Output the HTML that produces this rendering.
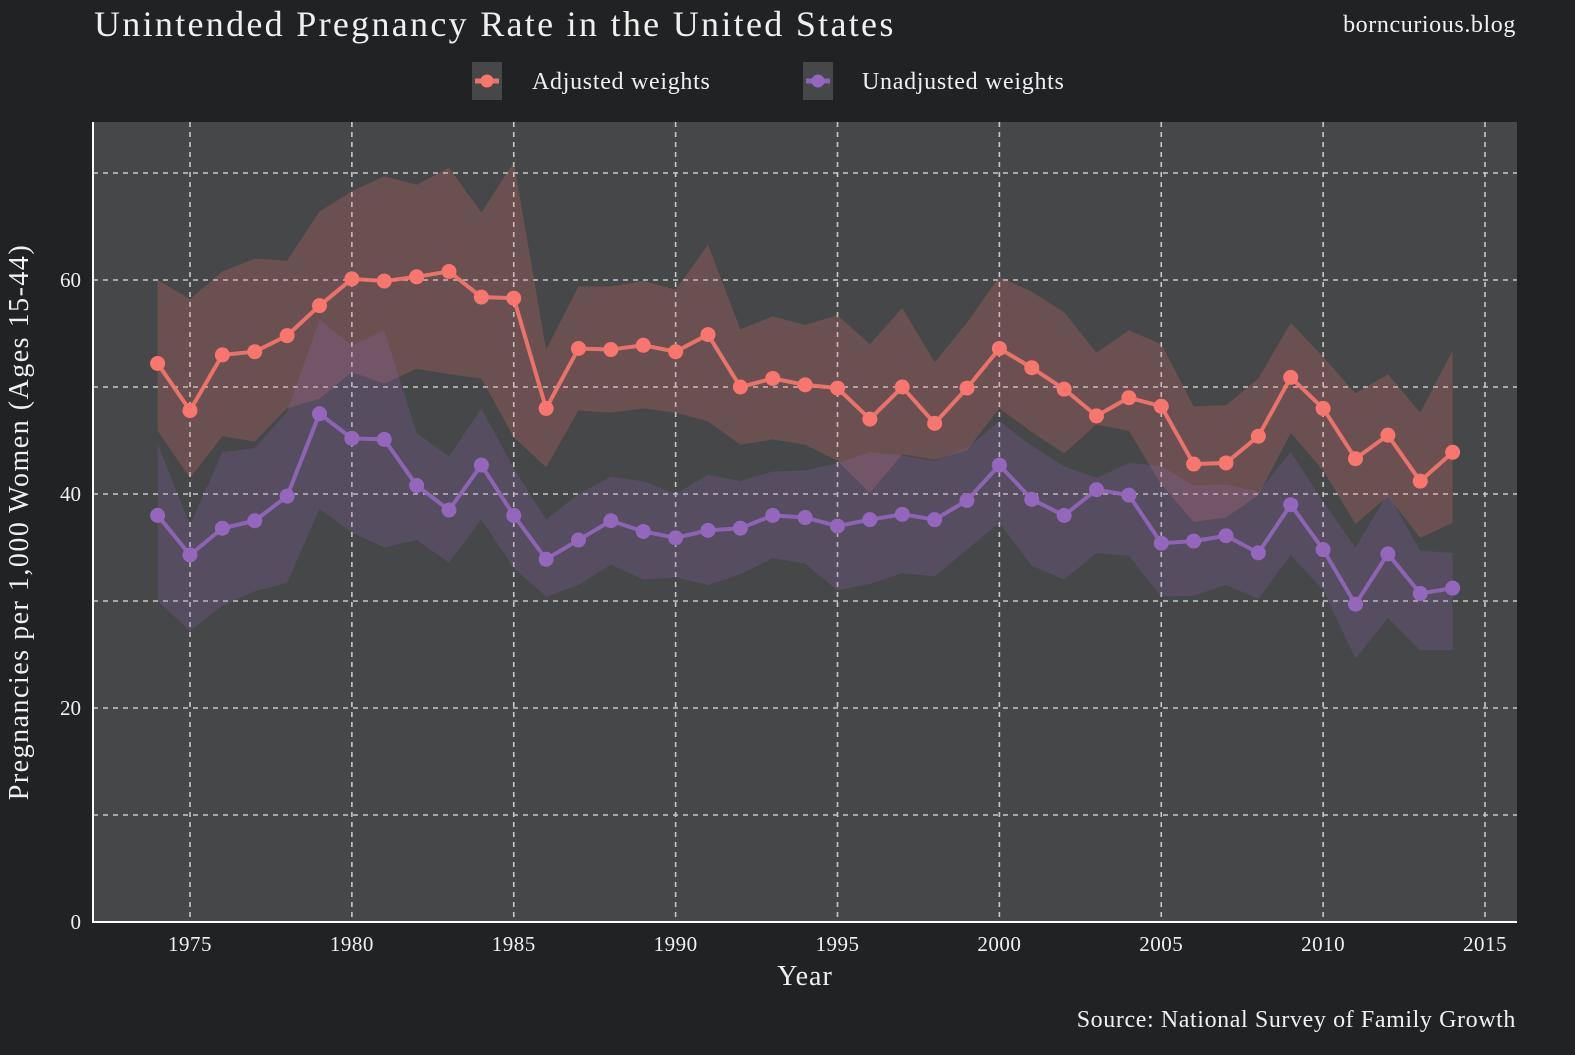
<!DOCTYPE html>
<html><head><meta charset="utf-8"><style>
body{margin:0;background:#212224;}
svg text{font-family:"Liberation Serif",serif;fill:#f0f0f0;}
</style></head><body>
<svg id="chart" width="1575" height="1050" xmlns="http://www.w3.org/2000/svg">
<rect width="1575" height="1050" fill="#212224"/>
<text x="94" y="36" font-size="36" letter-spacing="2.3">Unintended Pregnancy Rate in the United States</text>
<text x="1516" y="32" font-size="24" letter-spacing="0.6" text-anchor="end">borncurious.blog</text>
<g>
<g>
<rect x="472" y="62" width="30" height="38" fill="#464749"/>
<line x1="475" y1="81" x2="499" y2="81" stroke="#e8736a" stroke-width="5"/>
<circle cx="487" cy="81" r="6.5" fill="#f8766d"/>
<text x="532" y="89" font-size="24" letter-spacing="0.7">Adjusted weights</text>
</g>
<g>
<rect x="803" y="62" width="30" height="38" fill="#464749"/>
<line x1="806" y1="81" x2="830" y2="81" stroke="#8c62b8" stroke-width="5"/>
<circle cx="818" cy="81" r="6.5" fill="#9467bd"/>
<text x="862" y="89" font-size="24" letter-spacing="0.7">Unadjusted weights</text>
</g>
</g>
<rect x="93" y="122" width="1424" height="800" fill="#464749"/>
<g id="grid"></g>
<g id="bands"></g>
<g id="series"></g>
<g id="axes"></g>
<text x="805" y="985" font-size="28" letter-spacing="1" text-anchor="middle">Year</text>
<text transform="translate(28,522) rotate(-90)" font-size="28" letter-spacing="1.5" text-anchor="middle">Pregnancies per 1,000 Women (Ages 15-44)</text>
<text x="1516" y="1027" font-size="24" letter-spacing="0.6" text-anchor="end">Source: National Survey of Family Growth</text>
</svg>
<script>
const years=[1974,1975,1976,1977,1978,1979,1980,1981,1982,1983,1984,1985,1986,1987,1988,1989,1990,1991,1992,1993,1994,1995,1996,1997,1998,1999,2000,2001,2002,2003,2004,2005,2006,2007,2008,2009,2010,2011,2012,2013,2014];
const adjusted=[52.2,47.8,53.0,53.3,54.8,57.6,60.1,59.9,60.3,60.8,58.4,58.3,48.0,53.6,53.5,53.9,53.3,54.9,50.0,50.8,50.2,49.9,47.0,50.0,46.6,49.9,53.6,51.8,49.8,47.3,49.0,48.2,42.8,42.9,45.4,50.9,48.0,43.3,45.5,41.2,43.9];
const adjustedUpper=[60,58.2,60.8,62.0,61.8,66.4,68.3,69.7,68.9,70.5,66.3,71.0,53.5,59.4,59.4,59.9,59.1,63.3,55.4,56.6,55.8,56.7,54.0,57.4,52.3,56.0,60.3,58.9,57.0,53.2,55.3,54.0,48.2,48.3,50.8,56.0,52.8,49.4,51.2,47.6,53.4];
const adjustedLower=[45.9,41.5,45.4,44.9,48.0,48.9,51.4,50.3,51.7,51.2,50.8,45.3,42.5,47.8,47.6,48.0,47.6,46.8,44.6,45.1,44.6,43.1,40.1,43.7,43.2,44.1,48.0,45.8,43.8,46.5,45.9,40.9,37.4,37.8,39.9,45.7,42.2,37.2,39.8,35.9,37.3];
const unadjusted=[38.0,34.3,36.8,37.5,39.8,47.5,45.2,45.1,40.8,38.5,42.7,38.0,33.9,35.7,37.5,36.5,35.9,36.6,36.8,38.0,37.8,37.0,37.6,38.1,37.6,39.4,42.7,39.5,38.0,40.4,39.9,35.4,35.6,36.1,34.5,39.0,34.8,29.7,34.4,30.7,31.2];
const unadjustedUpper=[44.7,37.1,43.9,44.3,47.7,56.3,53.9,55.3,45.7,43.5,48.0,42.4,37.6,40.0,41.6,41.2,40.0,41.8,41.2,42.1,42.2,42.9,43.9,43.6,43.1,44.3,46.8,44.5,42.6,41.5,42.9,42.6,40.8,40.9,40.2,43.9,39.3,35.0,40.1,34.7,34.5];
const unadjustedLower=[30.0,27.2,29.6,30.9,31.7,38.6,36.4,35.0,35.7,33.6,37.6,33.1,30.4,31.5,33.4,32.0,32.2,31.5,32.5,34.0,33.5,31.0,31.6,32.6,32.3,34.8,37.3,33.3,32.0,34.5,34.2,30.4,30.5,31.5,30.2,34.3,31.0,24.6,28.4,25.4,25.4];
const xTicks=[1975,1980,1985,1990,1995,2000,2005,2010,2015];
const yTicks=[0,20,40,60];
const yMinor=[10,30,50,70];

const NS="http://www.w3.org/2000/svg";
const X=v=>190+(v-1975)*(1485-190)/40;
const Y=v=>922-v*10.7;
function mk(tag,parent,attrs){const e=document.createElementNS(NS,tag);for(const k in attrs)e.setAttribute(k,attrs[k]);document.getElementById(parent).appendChild(e);return e;}
const dash={stroke:"#c8c8c8","stroke-width":1.6,"stroke-dasharray":"5,5"};
yTicks.concat(yMinor).forEach(v=>{if(v===0)return;const l=mk('line','grid',Object.assign({x1:93,x2:1517,y1:Y(v),y2:Y(v)},dash));

});
xTicks.forEach(v=>{const l=mk('line','grid',Object.assign({x1:X(v),x2:X(v),y1:122,y2:922},dash));

});
function band(up,lo,color,name){const pts=years.map((y,i)=>X(y)+','+Y(up[i])).concat(years.map((y,i)=>X(y)+','+Y(lo[i])).reverse());
const p=mk('polygon','bands',{points:pts.join(' '),fill:color,'fill-opacity':0.2});

}
band(adjustedUpper,adjustedLower,'#f8766d','adjusted-confidence-band');
band(unadjustedUpper,unadjustedLower,'#9467bd','unadjusted-confidence-band');
function series(vals,color,name){const l=mk('polyline','series',{points:years.map((y,i)=>X(y)+','+Y(vals[i])).join(' '),fill:'none',stroke:color,'stroke-width':4,'stroke-opacity':0.9});


years.forEach((y,i)=>{const c=mk('circle','series',{cx:X(y),cy:Y(vals[i]),r:7.5,fill:color});

});}
series(adjusted,'#f8766d','adjusted');
series(unadjusted,'#9467bd','unadjusted');
const ax=mk('line','axes',{x1:93,x2:93,y1:122,y2:923,stroke:'#fff','stroke-width':2});


const bx=mk('line','axes',{x1:92,x2:1517,y1:922,y2:922,stroke:'#fff','stroke-width':2});


xTicks.forEach(v=>{const t=mk('text','axes',{x:X(v),y:951,'font-size':21,'letter-spacing':0.5,'text-anchor':'middle'});t.textContent=v;

});
yTicks.forEach(v=>{const t=mk('text','axes',{x:81,y:Y(v)+7,'font-size':21,'text-anchor':'end'});t.textContent=v;

});
</script>
</body></html>
